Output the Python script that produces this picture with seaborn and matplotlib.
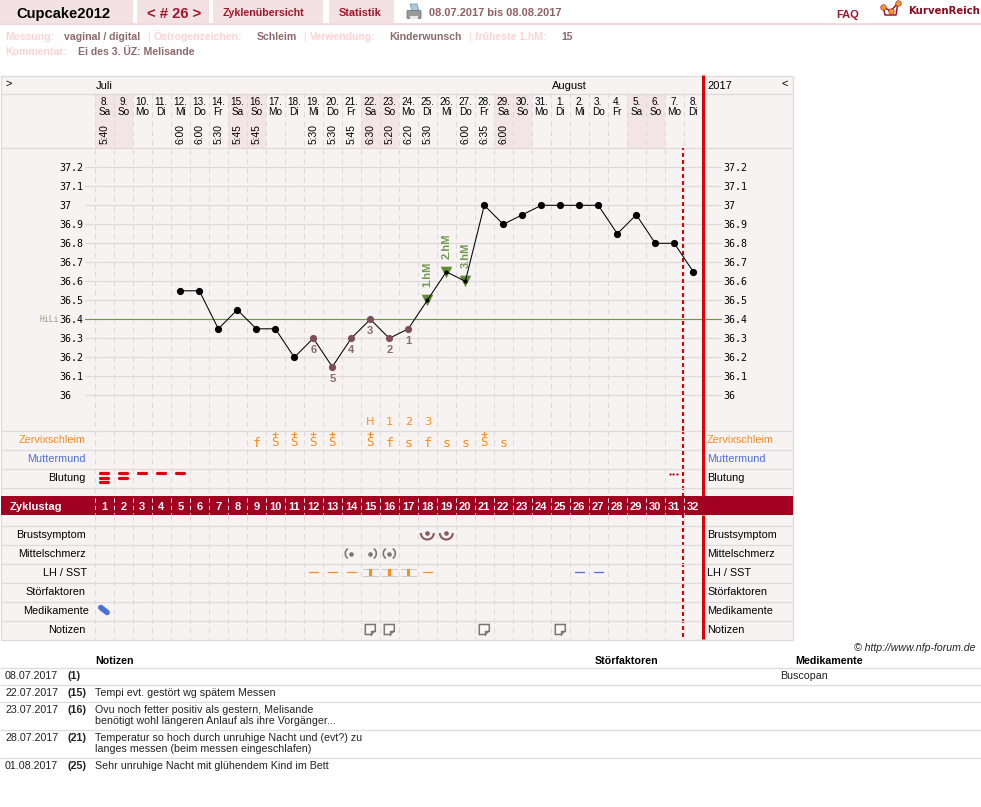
import numpy as np
import pandas as pd
import matplotlib.pyplot as plt
import seaborn as sns
from matplotlib.patches import Arc, Polygon, Rectangle, FancyBboxPatch

sns.set_theme(style="white")
plt.rcParams['font.family'] = ['Liberation Sans', 'DejaVu Sans']

# --- data ---
cycle_days = list(range(1, 33))
date_nums = [8, 9, 10, 11, 12, 13, 14, 15, 16, 17, 18, 19, 20, 21, 22, 23, 24, 25, 26, 27, 28, 29, 30, 31,
             1, 2, 3, 4, 5, 6, 7, 8]
weekdays = ["Sa", "So", "Mo", "Di", "Mi", "Do", "Fr"] * 4 + ["Sa", "So", "Mo", "Di"]
times = ["5:40", "", "", "", "6:00", "6:00", "5:30", "5:45", "5:45", "", "", "5:30", "5:30", "5:45", "6:30",
         "5:20", "6:20", "5:30", "", "6:00", "6:35", "6:00", "", "", "", "", "", "", "", "", "", ""]
temps = [np.nan, np.nan, np.nan, np.nan, 36.55, 36.55, 36.35, 36.45, 36.35, 36.35, 36.2, 36.3, 36.15, 36.3,
         36.4, 36.3, 36.35, 36.5, 36.65, 36.6, 37, 36.9, 36.95, 37, 37, 37, 37, 36.85, 36.95, 36.8, 36.8, 36.65]
low_days = [17, 16, 15, 14, 13, 12]
low_nums = ["1", "2", "3", "4", "5", "6"]
hm_days = [18, 19, 20]
hm_labels = ["1.hM", "2.hM", "3.hM"]
temp_ticks = [36, 36.1, 36.2, 36.3, 36.4, 36.5, 36.6, 36.7, 36.8, 36.9, 37, 37.1, 37.2]
temp_labels = ["36", "36.1", "36.2", "36.3", "36.4", "36.5", "36.6", "36.7", "36.8", "36.9", "37", "37.1", "37.2"]
hili = 36.4
peak_days = [15, 16, 17, 18]
peak_labels = ["H", "1", "2", "3"]
mucus_days = [9, 10, 11, 12, 13, 15, 16, 17, 18, 19, 20, 21, 22]
mucus_vals = ["f", "S+", "S+", "S+", "S+", "S+", "f", "s", "f", "s", "s", "S+", "s"]
bleed_days = [1, 2, 3, 4, 5]
bleed_levels = [3, 2, 1, 1, 1]
spot_days = [31]
breast_days = [18, 19]
pain_days = [14, 15, 16]
pain_sides = ["l", "r", "lr"]
lh_dash_days = [12, 13, 14, 18]
lh_peak_days = [15, 16, 17]
sst_days = [26, 27]
med_days = [1]
note_days = [15, 16, 21, 25]
row_names = ["Zervixschleim", "Muttermund", "Blutung", "Brustsymptom", "Mittelschmerz", "LH / SST",
             "Störfaktoren", "Medikamente", "Notizen"]
note_rows = [
    ("08.07.2017", "(1)", [""]),
    ("22.07.2017", "(15)", ["Tempi evt. gestört wg spätem Messen"]),
    ("23.07.2017", "(16)", ["Ovu noch fetter positiv als gestern, Melisande",
                            "benötigt wohl längeren Anlauf als ihre Vorgänger..."]),
    ("28.07.2017", "(21)", ["Temperatur so hoch durch unruhige Nacht und (evt?) zu",
                            "langes messen (beim messen eingeschlafen)"]),
    ("01.08.2017", "(25)", ["Sehr unruhige Nacht mit glühendem Kind im Bett"]),
]

# --- colours ---
PANEL = '#f8f3f3'
LINE = '#dfdbdb'
TAB = '#f3e2e4'
WEEKEND = '#f3e4e6'
DARKRED = '#a5152a'
BAND = '#a10020'
RED = '#e00000'
ORANGE = '#ff8c1a'
BLUE = '#4d6fd9'
MAUVE = '#7d5055'
MAUVE_TXT = '#8d6a6e'
PINK = '#fdd3d6'
GREEN = '#5f9030'

W, H = 981, 807
X0, STEP = 85.3, 19.0
RED_DAY = 31.47


def dx(d):
    return X0 + STEP * d


fig = plt.figure(figsize=(W / 100, H / 100), dpi=100, facecolor='white')

# pixel layer for the page furniture
page = fig.add_axes([0, 0, 1, 1], zorder=0)
page.set_xlim(0, W)
page.set_ylim(H, 0)
page.axis('off')
top = fig.add_axes([0, 0, 1, 1], zorder=3)
top.set_xlim(0, W)
top.set_ylim(H, 0)
top.axis('off')
top.patch.set_alpha(0)


def txt(x, y, s, size=7.8, color='black', weight='normal', ha='left', **kw):
    # y is the middle of the capitals, so umlauts and descenders do not move the line
    if 'rotation' in kw:
        page.text(x, y, s, fontsize=size, color=color, fontweight=weight, ha=ha, va='center', **kw)
    else:
        page.text(x, y + 0.5 * size, s, fontsize=size, color=color, fontweight=weight, ha=ha, va='baseline', **kw)


# top tabs
for x0, x1 in [(0, 133), (137, 209), (213, 323), (329, 394)]:
    page.add_patch(Rectangle((x0, 0), x1 - x0, 23, fc=TAB, ec='none'))
page.add_patch(Rectangle((0, 23), W, 2, fc='#f3dadd', ec='none'))
txt(16, 12.5, "Cupcake2012", size=10.6, weight='bold')
txt(147, 12.5, "< # 26 >", size=10.6, color=DARKRED, weight='bold')
txt(223, 12.5, "Zyklenübersicht", size=7.7, color=DARKRED, weight='bold')
txt(339, 12.5, "Statistik", size=7.8, color=DARKRED, weight='bold')
txt(429, 12.5, "08.07.2017 bis 08.08.2017", size=7.9, color='#8f5f63', weight='bold')
txt(836, 14.5, "FAQ", size=8, color=DARKRED, weight='bold')
txt(908, 10.5, "KurvenReich", size=7.3, color='#8b0a1e', weight='bold', family='DejaVu Sans')

# printer icon
page.add_patch(Polygon([(410, 4), (417, 4), (419, 11), (412, 11)], fc='#a9cbe0', ec='#7f98a8', lw=0.6))
page.add_patch(FancyBboxPatch((408, 11.5), 12, 6, boxstyle="round,pad=1", fc='#9a9a9a', ec='#777777', lw=0.6))
page.add_patch(Rectangle((410, 16), 8, 3, fc='#e8e8e8', ec='none'))

# logo
page.plot([883.3, 885, 896, 897.7], [7, 15, 15, 4], color=DARKRED, lw=1.1)
page.plot([883.3, 890.7, 897.7], [6.7, 11.3, 3], color=DARKRED, lw=1.1)
page.scatter([883.3, 890.7, 897.7], [6.7, 11.3, 3], s=16, color='#f59a1b', edgecolor=DARKRED, linewidth=0.4, zorder=3)

# meta lines
for x, s, col in [(5, "Messung:", PINK), (64, "vaginal / digital", MAUVE_TXT),
                  (154, "Östrogenzeichen:", PINK), (257, "Schleim", MAUVE_TXT),
                  (310, "Verwendung:", PINK), (389, "Kinderwunsch", MAUVE_TXT),
                  (475, "früheste 1.hM:", PINK), (561, "15", MAUVE_TXT)]:
    txt(x, 36, s, size=7.6, color=col, weight='bold')
for x in [147, 303, 468]:
    txt(x, 36, "|", size=7.6, color=PINK)
txt(5, 51, "Kommentar:", size=7.6, color=PINK, weight='bold')
txt(78, 51, "Ei des 3. ÜZ: Melisande", size=7.6, color=MAUVE_TXT, weight='bold')

# chart panel and rows
page.add_patch(Rectangle((0.5, 75.5), 792.5, 564, fc=PANEL, ec=LINE, lw=0.9))
for d, wd in zip(cycle_days, weekdays):
    if wd in ("Sa", "So"):
        page.add_patch(Rectangle((dx(d) - 9.8, 93.5), STEP, 54, fc=WEEKEND, ec='none'))
page.hlines([93.5, 147.5, 430.5, 449.5, 468.5, 487.5, 525.5, 544.5, 563.5, 582.5, 601.5, 620.5], 0.5, 793,
            color=LINE, lw=0.9)
grid_x = [dx(d) - 9.8 for d in cycle_days]
for y0, y1 in [(93, 487), (487, 496), (515, 639)]:
    page.vlines(grid_x, y0, y1, color='#dedada', lw=0.75, linestyles=(0, (5, 4)))

page.add_patch(Rectangle((1, 496), 792, 19, fc=BAND, ec='none', zorder=4))
page.vlines(grid_x, 498, 514, color='#f3dfe2', lw=0.75, linestyles=(0, (4, 3)), zorder=5)
txt(10, 506, "Zyklustag", size=8, color='white', weight='bold', zorder=5)
for d in cycle_days:
    txt(dx(d), 506, str(d), size=8, color='white', weight='bold', ha='center', zorder=5)

# header texts
txt(5, 83, ">", size=8)
txt(96, 85, "Juli", size=8)
txt(552, 85, "August", size=8)
txt(707, 85, "2017", size=8)
txt(782, 83, "<", size=8)
for d, n, wd, t in zip(cycle_days, date_nums, weekdays, times):
    txt(dx(d), 101, f"{n}.", size=7.2, ha='center')
    txt(dx(d), 111, wd, size=7.2, ha='center')
    if t:
        txt(dx(d) + 0.5, 134, t, size=7.4, ha='center', rotation=90)

# row labels
row_y = [439, 458, 477, 534.3, 553, 572, 591, 610, 629]
row_col = [ORANGE, BLUE, 'black', 'black', 'black', 'black', 'black', 'black', 'black']
row_right = [85.5, 85.5, 85.5, 86, 86, 87, 85, 89, 85.5]
for name, y, col, xr in zip(row_names, row_y, row_col, row_right):
    txt(xr, y, name, color=col, ha='right')
    txt(707, y, name, color=col)

# temperature axes, same x scale as the day columns
ax = fig.add_axes([85 / W, 1 - 430 / H, 637 / W, 282 / H], zorder=1)
ax.patch.set_alpha(0)
ax.set_xlim((85 - X0) / STEP, (722 - X0) / STEP)
ax.set_ylim(36.4 - (430 - 319.3) / 190, 36.4 + (319.3 - 148) / 190)
df = pd.DataFrame({"day": cycle_days, "temp": temps}).dropna()
df_low = df[df["day"].isin(low_days)]
df_hm = df[df["day"].isin(hm_days)]
df_black = df[~df["day"].isin(low_days + hm_days)]

ax.axhline(hili, color='#6f9a40', lw=0.8, zorder=1.5)
ax.axvline(RED_DAY, color=RED, lw=1.44, linestyle=(0, (2, 1.5)), zorder=1.8)
sns.lineplot(data=df, x="day", y="temp", color='black', lw=0.75, ax=ax, estimator=None, legend=False, zorder=3)
sns.scatterplot(data=df_black, x="day", y="temp", color='black', s=27, linewidth=0, ax=ax, legend=False, zorder=4)
sns.scatterplot(data=df_low, x="day", y="temp", color=MAUVE, s=27, linewidth=0, ax=ax, legend=False, zorder=4)
sns.scatterplot(data=df_hm, x="day", y="temp", color=GREEN, marker='v', s=70, linewidth=0, ax=ax, legend=False,
                zorder=2.5)
sns.scatterplot(data=df_hm, x="day", y="temp", color='black', s=9, linewidth=0, ax=ax, legend=False, zorder=4)

for d, s in zip(low_days, low_nums):
    ax.annotate(s, (d, temps[d - 1]), xytext=(0, -8.6), textcoords='offset points', ha='center', va='center',
                fontsize=8, fontweight='bold', color=MAUVE_TXT)
for d, s in zip(hm_days, hm_labels):
    ax.annotate(s, (d, temps[d - 1]), xytext=(0, 18.7), textcoords='offset points', ha='center', va='center',
                rotation=90, fontsize=8, fontweight='bold', color='#6f9a50')

sns.despine(ax=ax, left=True, bottom=True)
ax.set_xlabel("")
ax.set_ylabel("")
ax.set_xticks([])
ax.set_yticks(temp_ticks)
ax.set_yticklabels(temp_labels, family='DejaVu Sans Mono', fontsize=7.2, color='black')
ax.grid(axis='y', color=LINE, lw=0.9, zorder=1)
ax.set_axisbelow(True)
ax.tick_params(axis='y', length=0, left=False, right=False, labelleft=True, labelright=True, pad=0.8,
               labelcolor='black')
for tick in ax.yaxis.get_major_ticks():
    tick.label1.set_ha('left')
    tick.label1.set_x(-25 / 637)
    tick.label2.set_ha('left')
    tick.label2.set_family('DejaVu Sans Mono')
    tick.label2.set_fontsize(7.2)
txt(40, 319, "HiLi", size=5.8, color='#8f9f7f', family='DejaVu Sans Mono')

# red markers on the lower rows and right edge
page.vlines(dx(RED_DAY), 430, 639, color=RED, lw=1.44, linestyles=(0, (2, 1.5)), zorder=1)
top.vlines(702.7, 75, 496, color=RED, lw=2.16)
top.vlines(702.7, 515, 639, color=RED, lw=2.16)

# symptom rows
for d, s in zip(peak_days, peak_labels):
    txt(dx(d), 421, s, size=8.2, color=ORANGE, ha='center', family='DejaVu Sans', weight='medium')
for d, v in zip(mucus_days, mucus_vals):
    if v == "S+":
        txt(dx(d), 442, "S", size=8.8, color=ORANGE, ha='center', family='DejaVu Sans Mono')
        page.scatter([dx(d)], [434.3], marker='+', s=18, color=ORANGE, linewidth=0.8)
    else:
        txt(dx(d), 442, v, size=9.4, color=ORANGE, ha='center', family='DejaVu Sans Mono')

for d, lvl in zip(bleed_days, bleed_levels):
    for i in range(lvl):
        y = 473.2 + 4.3 * i
        page.plot([dx(d) - 4, dx(d) + 4], [y, y], color='#e00010', lw=2.3, solid_capstyle='round')
for d in spot_days:
    page.scatter([dx(d) - 4.5, dx(d) - 1, dx(d) + 2.5], [473.7] * 3, s=2.6, color='#c00010', linewidth=0)

for d in breast_days:
    page.add_patch(Arc((dx(d), 533), 13, 13, theta1=0, theta2=180, color='#8d5a5a', lw=1.5))
    page.scatter([dx(d)], [532.5], s=11, color='#8d5a5a', linewidth=0)
for d, side in zip(pain_days, pain_sides):
    page.scatter([dx(d)], [553.5], s=11, color='#777777', linewidth=0)
    if "l" in side:
        page.add_patch(Arc((dx(d), 553.5), 12, 12, theta1=125, theta2=235, color='#777777', lw=1.2))
    if "r" in side:
        page.add_patch(Arc((dx(d), 553.5), 12, 12, theta1=-55, theta2=55, color='#777777', lw=1.2))

for d in lh_dash_days:
    page.plot([dx(d) - 4.5, dx(d) + 4.5], [572.3, 572.3], color=ORANGE, lw=0.9)
for d in sst_days:
    page.plot([dx(d) - 4.5, dx(d) + 4.5], [572.3, 572.3], color=BLUE, lw=0.9)
for d in lh_peak_days:
    page.plot([dx(d) - 7.5, dx(d) + 7.5], [568.7, 568.7], color='#cfcaca', lw=0.75)
    page.plot([dx(d) - 7.5, dx(d) + 7.5], [576, 576], color='#cfcaca', lw=0.75)
    page.add_patch(Rectangle((dx(d) - 1.7, 569), 3.4, 7, fc=ORANGE, ec='none', zorder=3))

for d in med_days:
    page.plot([dx(d) - 3.5, dx(d) + 2.8], [607.5, 612.5], color=BLUE, lw=4, solid_capstyle='round')

for d in note_days:
    c, m = dx(d), 629.5
    page.add_patch(Polygon([(c - 5, m - 5), (c + 5, m - 5), (c + 5, m + 1), (c + 1, m + 5), (c - 5, m + 5)],
                           closed=True, fc='#fbf8f8', ec='#777777', lw=1.1))
    page.plot([c + 1, c + 1, c + 5], [m + 5, m + 1, m + 1], color='#777777', lw=1.0)

# notes table
txt(976, 647, "© http://www.nfp-forum.de", size=7.6, ha='right', style='italic', color='#222222')
txt(95, 660, "Notizen", size=7.7, weight='bold')
txt(595, 660, "Störfaktoren", size=7.7, weight='bold')
txt(795, 660, "Medikamente", size=7.7, weight='bold')
page.hlines([667.5, 684.5, 701.5, 729.5, 757.5], 0, W, color=LINE, lw=0.9)
row_top = [675, 692, 709, 737, 765]
for (date, num, lines), y in zip(note_rows, row_top):
    txt(5, y, date, size=7.7, color='#222222')
    txt(68, y, num, size=7.7, weight='bold', color='#222222')
    for i, s in enumerate(lines):
        txt(95, y + 11.3 * i, s, size=7.65, color='#222222')
txt(780, 675, "Buscopan", size=7.65, color='#222222')

fig.savefig('out.png', dpi=100)
